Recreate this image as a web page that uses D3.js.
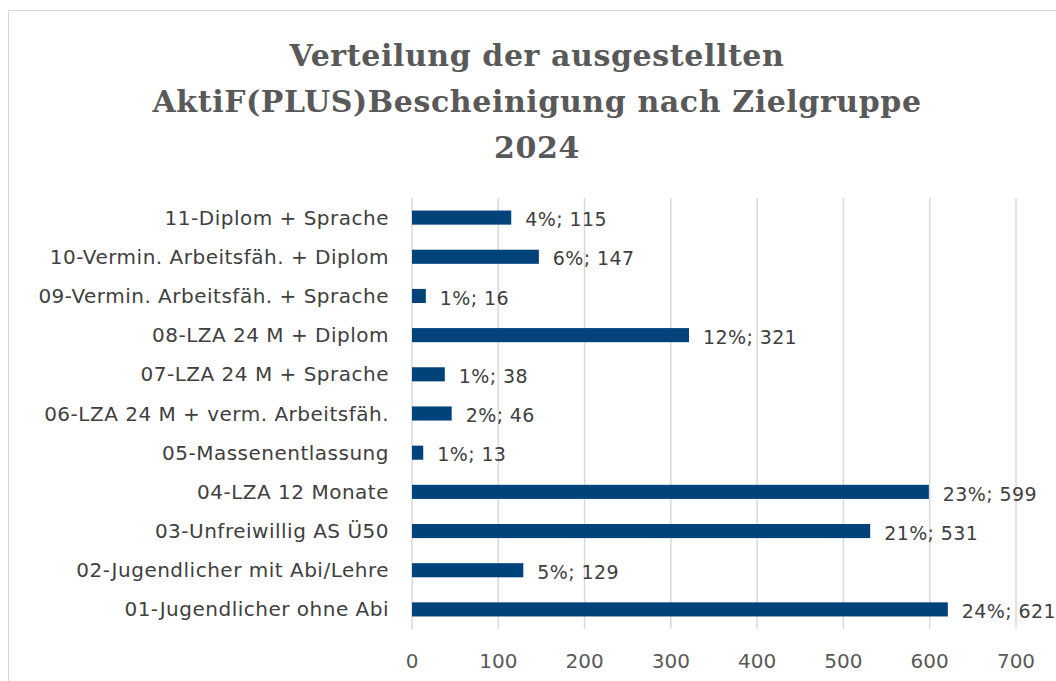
<!DOCTYPE html>
<html lang="de">
<head>
<meta charset="utf-8">
<title>AktiF Verteilung</title>
<script src="https://cdn.jsdelivr.net/npm/d3@7"></script>
<style>
  body { margin: 0; background: #fff; }
  text { font-family: "DejaVu Sans", sans-serif; }
  .title { font-family: "DejaVu Serif", serif; font-weight: bold; }
</style>
</head>
<body>
<script>
// categories bottom-to-top as in the chart
var categories = [
  "01-Jugendlicher ohne Abi",
  "02-Jugendlicher mit Abi/Lehre",
  "03-Unfreiwillig AS Ü50",
  "04-LZA 12 Monate",
  "05-Massenentlassung",
  "06-LZA 24 M + verm. Arbeitsfäh.",
  "07-LZA 24 M + Sprache",
  "08-LZA 24 M + Diplom",
  "09-Vermin. Arbeitsfäh. + Sprache",
  "10-Vermin. Arbeitsfäh. + Diplom",
  "11-Diplom + Sprache"
];
var values = [621, 129, 531, 599, 13, 46, 38, 321, 16, 147, 115];
var percents = ["24%", "5%", "21%", "23%", "1%", "2%", "1%", "12%", "1%", "6%", "4%"];
var ticks = [0, 100, 200, 300, 400, 500, 600, 700];
var titleLines = ["Verteilung der ausgestellten", "AktiF(PLUS)Bescheinigung nach Zielgruppe", "2024"];

var width = 1056, height = 681;
var svg = d3.select("body").append("svg")
  .attr("width", width)
  .attr("height", height);

// outer frame
svg.append("rect")
  .attr("x", 8.5).attr("y", 10.5)
  .attr("width", 1100).attr("height", 700)
  .attr("fill", "none")
  .attr("stroke", "#d9d9d9");

// title
svg.append("g").selectAll("text")
  .data(titleLines)
  .enter().append("text")
  .attr("class", "title")
  .attr("x", 537)
  .attr("y", function(d, i) { return 66 + i * 46; })
  .attr("text-anchor", "middle")
  .attr("font-size", 30)
  .attr("letter-spacing", 0.6)
  .attr("fill", "#595959")
  .text(function(d) { return d; });

var x = d3.scaleLinear().domain([0, 700]).range([412, 1016]);
var y = d3.scaleBand()
  .domain(categories.slice().reverse())
  .range([198, 629])
  .paddingInner(0.64)
  .paddingOuter(0.32);

// gridlines
svg.append("g").selectAll("line")
  .data(ticks)
  .enter().append("line")
  .attr("x1", function(d) { return x(d); })
  .attr("x2", function(d) { return x(d); })
  .attr("y1", 198).attr("y2", 629)
  .attr("stroke", "#d9d9d9")
  .attr("stroke-width", 1.5);

// x axis labels
svg.append("g").selectAll("text")
  .data(ticks)
  .enter().append("text")
  .attr("x", function(d) { return x(d); })
  .attr("y", 668)
  .attr("text-anchor", "middle")
  .attr("font-size", 20)
  .attr("fill", "#595959")
  .text(function(d) { return d; });

// category labels
svg.append("g").selectAll("text")
  .data(categories)
  .enter().append("text")
  .attr("x", 389)
  .attr("y", function(d) { return y(d) + y.bandwidth() / 2; })
  .attr("dy", "0.35em")
  .attr("text-anchor", "end")
  .attr("font-size", 20)
  .attr("letter-spacing", 0.5)
  .attr("fill", "#404040")
  .text(function(d) { return d; });

// bars
svg.append("g").selectAll("rect")
  .data(values)
  .enter().append("rect")
  .attr("x", x(0))
  .attr("y", function(d, i) { return y(categories[i]); })
  .attr("width", function(d) { return x(d) - x(0); })
  .attr("height", y.bandwidth())
  .attr("fill", "#00427a");

// data labels
svg.append("g").selectAll("text")
  .data(values)
  .enter().append("text")
  .attr("x", function(d) { return x(d) + 14; })
  .attr("y", function(d, i) { return y(categories[i]) + y.bandwidth() / 2 + 2; })
  .attr("dy", "0.35em")
  .attr("font-size", 19)
  .attr("letter-spacing", 0.4)
  .attr("fill", "#404040")
  .text(function(d, i) { return percents[i] + "; " + d; });
</script>
</body>
</html>
